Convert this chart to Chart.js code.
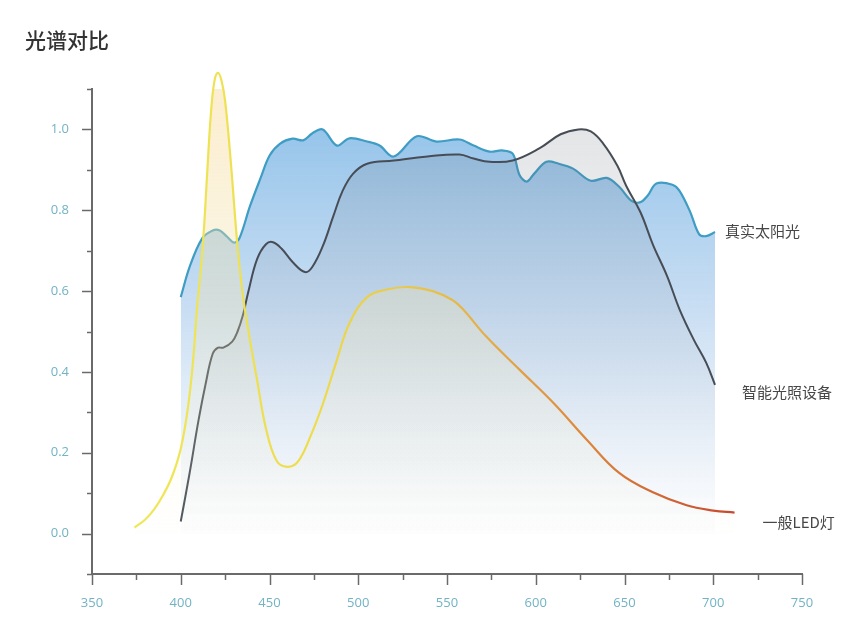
<!DOCTYPE html>
<html>
<head>
<meta charset="utf-8">
<script src="https://cdn.jsdelivr.net/npm/chart.js@4.4.1/dist/chart.umd.min.js"></script>
<style>
  html, body { margin: 0; padding: 0; background: #fff; }
  #wrap { width: 865px; height: 623px; }
</style>
</head>
<body>
<div id="wrap"><canvas id="spectrumChart" width="865" height="623"></canvas></div>
<script>
// wavelength (nm) / relative intensity
const sunNm  = [400, 405, 412, 418, 422, 426, 430, 433, 439, 445, 450, 456, 463, 469, 474, 480, 488, 495, 505, 512, 520, 533, 544, 557, 565, 574, 581, 587, 591, 595, 599, 606, 613, 621, 631, 640, 647, 654, 659, 663, 668, 677, 681, 687, 692, 696, 701];
const sunVal = [0.585, 0.66, 0.73, 0.75, 0.75, 0.735, 0.72, 0.73, 0.81, 0.88, 0.935, 0.965, 0.977, 0.973, 0.99, 1.0, 0.96, 0.978, 0.97, 0.96, 0.933, 0.983, 0.97, 0.975, 0.96, 0.945, 0.948, 0.94, 0.886, 0.871, 0.89, 0.92, 0.915, 0.903, 0.873, 0.88, 0.858, 0.823, 0.82, 0.836, 0.866, 0.863, 0.848, 0.796, 0.741, 0.736, 0.746];

const smartNm  = [400, 405, 410, 414, 418, 421, 424, 429, 432, 435, 438, 443, 448, 452, 457, 463, 470, 474, 480, 486, 491, 497, 505, 520, 539, 557, 565, 574, 587, 602, 614, 624, 631, 638, 646, 651, 659, 666, 674, 681, 689, 696, 701];
const smartVal = [0.03, 0.15, 0.28, 0.37, 0.445, 0.46, 0.46, 0.475, 0.5, 0.54, 0.597, 0.679, 0.716, 0.721, 0.704, 0.672, 0.647, 0.659, 0.711, 0.786, 0.846, 0.89, 0.915, 0.923, 0.933, 0.938, 0.928, 0.92, 0.923, 0.953, 0.988, 1.0, 0.995, 0.965, 0.91, 0.86, 0.795, 0.715, 0.637, 0.555, 0.48, 0.423, 0.368];

const ledNm  = [374, 380, 385, 390, 395, 400, 404, 407, 409, 411, 413, 415, 417, 419, 421, 423, 425, 428, 432, 435, 438, 443, 448, 454, 460, 466, 473, 480, 488, 495, 505, 516, 529, 542, 553, 559, 572, 591, 610, 629, 647, 666, 685, 700, 712];
const ledVal = [0.015, 0.035, 0.06, 0.095, 0.14, 0.21, 0.31, 0.43, 0.55, 0.64, 0.75, 0.9, 1.04, 1.12, 1.14, 1.12, 1.07, 0.93, 0.71, 0.59, 0.505, 0.38, 0.26, 0.18, 0.165, 0.178, 0.24, 0.32, 0.43, 0.52, 0.585, 0.604, 0.61, 0.6, 0.578, 0.555, 0.488, 0.405, 0.323, 0.231, 0.15, 0.102, 0.07, 0.057, 0.052];

const seriesNames = ['一般LED灯', '智能光照设备', '真实太阳光'];

const xTicks = { min: 350, max: 750, step: 25 };
const yTicks = { min: -0.1, max: 1.1, step: 0.1 };

const AXIS_COLOR = '#6a6a6a';
const TICK_TEXT = '#72b3c4';

const toPoints = (xs, ys) => xs.map((x, i) => ({ x: x, y: ys[i] }));

function vGradient(chart, stops, top, bottom) {
    const { ctx, chartArea, scales } = chart;
    if (!chartArea) return stops[0][1];
    const g = ctx.createLinearGradient(0, scales.y.getPixelForValue(top), 0, scales.y.getPixelForValue(bottom));
    stops.forEach(s => g.addColorStop(s[0], s[1]));
    return g;
}

function ledStroke(context) {
    const chart = context.chart;
    if (!chart.chartArea) return '#e8d84a';
    const x = chart.scales.x;
    const g = chart.ctx.createLinearGradient(x.getPixelForValue(372), 0, x.getPixelForValue(715), 0);
    g.addColorStop(0, '#eee85a');
    g.addColorStop(0.3, '#eddc4c');
    g.addColorStop(0.5, '#e6c04e');
    g.addColorStop(0.7, '#e0923e');
    g.addColorStop(1, '#c5472e');
    return g;
}

// tick marks (long on labelled values), title and end-of-line labels
const decor = {
    id: 'decor',
    afterDraw(chart) {
        const { ctx, scales: { x, y } } = chart;
        ctx.save();
        ctx.strokeStyle = AXIS_COLOR;
        ctx.lineWidth = 1.5;
        y.ticks.forEach(t => {
            const py = Math.round(y.getPixelForValue(t.value)) + 0.5;
            const len = Math.round(t.value * 10) % 2 === 0 ? 10 : 5;
            ctx.beginPath();
            ctx.moveTo(x.left - len, py);
            ctx.lineTo(x.left, py);
            ctx.stroke();
        });
        x.ticks.forEach(t => {
            const px = Math.round(x.getPixelForValue(t.value)) + 0.5;
            const len = t.value % 50 === 0 ? 11 : 6;
            ctx.beginPath();
            ctx.moveTo(px, y.bottom);
            ctx.lineTo(px, y.bottom + len);
            ctx.stroke();
        });

        ctx.fillStyle = '#333';
        ctx.font = '500 21px "Noto Sans CJK SC"';
        ctx.textBaseline = 'middle';
        ctx.textAlign = 'left';
        ctx.fillText('光谱对比', 25, 40);

        const offsets = [[28, 10], [27, 7], [10, -1]];
        ctx.fillStyle = '#474747';
        ctx.font = '15px "Noto Sans CJK SC"';
        chart.data.datasets.forEach((ds, i) => {
            const pts = chart.getDatasetMeta(i).data;
            const last = pts[pts.length - 1];
            ctx.fillText(seriesNames[i], last.x + offsets[i][0], last.y + offsets[i][1]);
        });
        ctx.restore();
    }
};

new Chart(document.getElementById('spectrumChart'), {
    type: 'line',
    data: {
        datasets: [
            {
                label: seriesNames[0],
                data: toPoints(ledNm, ledVal),
                borderColor: ledStroke,
                borderWidth: 2.2,
                fill: 'origin',
                backgroundColor: ctx => vGradient(ctx.chart, [[0, 'rgba(250,222,165,0.55)'], [0.5, 'rgba(240,225,170,0.3)'], [1, 'rgba(250,245,220,0.05)']], 1.14, 0),
                tension: 0.4,
                clip: false
            },
            {
                label: seriesNames[1],
                data: toPoints(smartNm, smartVal),
                borderColor: '#474d56',
                borderWidth: 2,
                fill: 'origin',
                backgroundColor: ctx => vGradient(ctx.chart, [[0, 'rgba(95,100,112,0.17)'], [0.6, 'rgba(120,130,150,0.08)'], [1, 'rgba(160,170,185,0.0)']], 1.0, 0),
                tension: 0.4
            },
            {
                label: seriesNames[2],
                data: toPoints(sunNm, sunVal),
                borderColor: '#3f9dc4',
                borderWidth: 2.2,
                fill: 'origin',
                backgroundColor: ctx => vGradient(ctx.chart, [[0, 'rgba(138,190,232,0.9)'], [0.45, 'rgba(188,214,240,0.8)'], [0.8, 'rgba(228,238,249,0.6)'], [1, 'rgba(248,250,253,0.3)']], 1.0, 0),
                tension: 0.35
            }
        ]
    },
    options: {
        responsive: false,
        animation: false,
        layout: { padding: { left: 30, right: 63, top: 89, bottom: 0 } },
        elements: { point: { radius: 0 } },
        plugins: {
            legend: { display: false },
            tooltip: { enabled: false }
        },
        scales: {
            x: {
                type: 'linear',
                min: xTicks.min,
                max: xTicks.max,
                grid: { display: false, drawTicks: false },
                border: { display: true, color: AXIS_COLOR, width: 2 },
                afterFit: s => { s.height = 49; },
                ticks: {
                    stepSize: xTicks.step,
                    autoSkip: false,
                    maxRotation: 0,
                    padding: 21,
                    color: TICK_TEXT,
                    font: { family: 'Open Sans', size: 13 },
                    callback: v => (v % 50 === 0 ? String(v) : '')
                }
            },
            y: {
                min: yTicks.min,
                max: yTicks.max,
                grid: { display: false, drawTicks: false },
                border: { display: true, color: AXIS_COLOR, width: 2 },
                afterFit: s => { s.width = 62; },
                ticks: {
                    stepSize: yTicks.step,
                    autoSkip: false,
                    padding: 23,
                    color: TICK_TEXT,
                    font: { family: 'Open Sans', size: 13 },
                    callback: v => {
                        const k = Math.round(v * 10);
                        return (k >= 0 && k <= 10 && k % 2 === 0) ? (k / 10).toFixed(1) : '';
                    }
                }
            }
        }
    },
    plugins: [decor]
});
</script>
</body>
</html>
